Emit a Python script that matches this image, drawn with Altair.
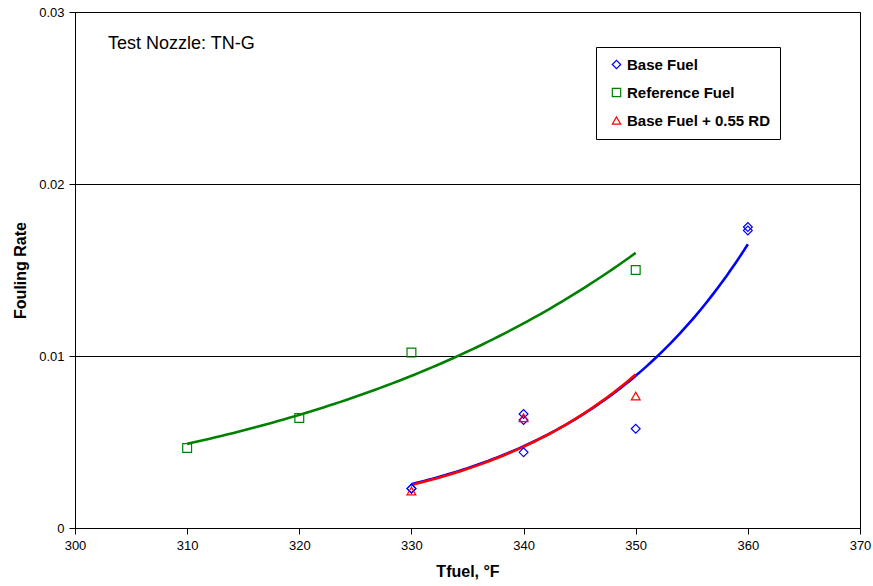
import altair as alt
import numpy as np
import pandas as pd

# Measured fouling rates
base_t = [330, 330, 340, 340, 340, 350, 360, 360]
base_rate = [0.00229, 0.00229, 0.00663, 0.00628, 0.0044, 0.00577, 0.0175, 0.0173]

ref_t = [310, 320, 330, 350]
ref_rate = [0.00465, 0.0064, 0.0102, 0.0150]

rd_t = [330, 340, 350]
rd_rate = [0.00215, 0.00641, 0.00767]

series_names = ["Base Fuel", "Reference Fuel", "Base Fuel + 0.55 RD"]
series_colors = ["#0000FF", "#008000", "#FF0000"]
series_shapes = ["diamond", "square", "triangle-up"]

points = pd.concat([
    pd.DataFrame({"t": base_t, "rate": base_rate, "series": series_names[0]}),
    pd.DataFrame({"t": ref_t, "rate": ref_rate, "series": series_names[1]}),
    pd.DataFrame({"t": rd_t, "rate": rd_rate, "series": series_names[2]}),
])


def exp_trend(ts, rates):
    # exponential trendline: least squares on ln(rate), sampled over the data range
    b, a = np.polyfit(ts, np.log(rates), 1)
    xs = np.linspace(min(ts), max(ts), 80)
    return pd.DataFrame({"t": xs, "rate": np.exp(a + b * xs)})


x_scale = alt.Scale(domain=[300, 370], nice=False)
y_scale = alt.Scale(domain=[0, 0.03], nice=False)
color_scale = alt.Scale(domain=series_names, range=series_colors)
shape_scale = alt.Scale(domain=series_names, range=series_shapes)

x_enc = alt.X("t:Q", scale=x_scale, title="Tfuel, °F",
              axis=alt.Axis(values=list(range(300, 371, 10)), grid=False, labelFlush=False,
                            labelPadding=5, titlePadding=11))
y_enc = alt.Y("rate:Q", scale=y_scale, title="Fouling Rate",
              axis=alt.Axis(values=[0, 0.01, 0.02, 0.03], format="~g", grid=True,
                            labelFlush=False, labelPadding=5, titlePadding=10))


def trend_line(ts, rates, color):
    return alt.Chart(exp_trend(ts, rates)).mark_line(strokeWidth=2.6, color=color).encode(
        x=x_enc, y=y_enc
    )


lines = [
    trend_line(ref_t, ref_rate, series_colors[1]),
    trend_line(base_t, base_rate, series_colors[0]),
    trend_line(rd_t, rd_rate, series_colors[2]),
]

markers = alt.Chart(points).mark_point(filled=False, size=78, strokeWidth=1.2, opacity=1).encode(
    x=x_enc,
    y=y_enc,
    color=alt.Color("series:N", scale=color_scale, title=None,
                    legend=alt.Legend(orient="none", legendX=521, legendY=35,
                                      fillColor="white", strokeColor="black",
                                      padding=10, rowPadding=12, symbolOffset=3,
                                      labelFontSize=15, labelFontWeight="bold",
                                      labelFont="Liberation Sans", labelColor="black",
                                      symbolStrokeWidth=1.2, symbolSize=70,
                                      labelOffset=3)),
    shape=alt.Shape("series:N", scale=shape_scale, title=None),
)

label = alt.Chart(pd.DataFrame({"txt": ["Test Nozzle: TN-G"]})).mark_text(
    align="left", baseline="middle", fontSize=18, font="Liberation Sans", color="black"
).encode(x=alt.value(33), y=alt.value(32), text="txt:N")

chart = alt.layer(*lines, markers, label).properties(
    width=785, height=516,
    padding={"left": 75, "top": 12, "right": 13, "bottom": 58},
    autosize=alt.AutoSizeParams(type="none"),
).configure_view(
    stroke="black", strokeWidth=1
).configure_axis(
    domainColor="black", tickColor="black", gridColor="black", gridWidth=1,
    labelFont="Liberation Sans", labelFontSize=13, labelColor="black",
    titleFont="Liberation Sans", titleFontSize=16, titleFontWeight="bold", titleColor="black",
    tickSize=6,
)

chart.save("out.html", embed_options={"renderer": "svg", "actions": False})
